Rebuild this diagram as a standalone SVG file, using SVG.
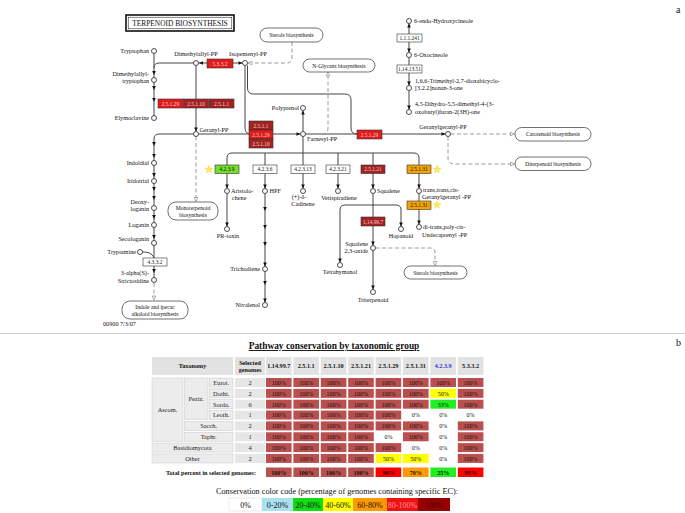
<svg xmlns="http://www.w3.org/2000/svg" width="685" height="513" viewBox="0 0 685 513">
<style>
text{font-family:"Liberation Serif","Times New Roman",serif;fill:#111}
.l{font-size:6.2px}
.r{text-anchor:end}
.m{text-anchor:middle}
.ln{fill:none;stroke:#444;stroke-width:1}
.ds{fill:none;stroke:#9a9a9a;stroke-width:1;stroke-dasharray:4 2.5}
.c{fill:#fff;stroke:#222;stroke-width:0.8}
.ec{stroke:#333;stroke-width:0.6}
.et{font-size:5.4px;text-anchor:middle}
.lt{fill:#f6d0d0}
.mp{fill:#fff;stroke:#333;stroke-width:0.7}
.mt{font-size:5.6px;text-anchor:middle}
.wh{fill:#fff}.rd{fill:#e21b1b}.dk{fill:#a52222}.gr{fill:#72e02a}.or{fill:#f3a300}
.a{fill:#111}
.o{fill:#fff;stroke:#888;stroke-width:0.7}
.st{fill:#fff24a;stroke:#d8c020;stroke-width:0.4}
.hd{fill:#e2e2e2}
.tx{fill:#ececec;stroke:#cfcfcf;stroke-width:0.6}
.sg{fill:#e6e6e6}
.k{fill:#b9504f}.w{fill:#fff}.y{fill:#ffff00}.g{fill:#22ee22}.R{fill:#ff0000}.O{fill:#ff9900}
.ct{font-size:6px;text-anchor:middle;fill:#5a1010}
.cz{font-size:6px;text-anchor:middle;fill:#222}
.th{font-size:6.2px;font-weight:bold;text-anchor:middle}
.tr{font-size:6.4px;text-anchor:middle;fill:#222}
.tb{font-size:6px;font-weight:bold;text-anchor:middle;fill:#3a0a0a}
.lg{font-size:8px;text-anchor:middle}
</style>
<defs>
<path id="ad" d="M-1.8,-4 L1.8,-4 L0,0 Z"/>
<path id="au" d="M-1.8,4 L1.8,4 L0,0 Z"/>
<path id="ar" d="M-4,-1.8 L-4,1.8 L0,0 Z"/>
<path id="al" d="M4,-1.8 L4,1.8 L0,0 Z"/>
<polygon id="star" points="0,-4 0.94,-1.29 3.8,-1.24 1.52,0.49 2.35,3.24 0,1.6 -2.35,3.24 -1.52,0.49 -3.8,-1.24 -0.94,-1.29"/>
</defs>
<rect width="685" height="513" fill="#fff"/>
<text x="676" y="13" style="font-size:10px">a</text>
<text x="676" y="346" style="font-size:10px">b</text>
<line x1="0" y1="333.5" x2="685" y2="333.5" stroke="#d0d0d0" stroke-width="1"/>

<g id="title">
<rect x="126" y="15" width="108" height="16" fill="#fff" stroke="#111" stroke-width="1.6"/>
<rect x="128.2" y="17.2" width="103.6" height="11.6" fill="none" stroke="#111" stroke-width="0.5"/>
<text x="180" y="26" class="m" style="font-size:7.4px">TERPENOID  BIOSYNTHESIS</text>
</g>

<g id="connectors">
<path class="ln" d="M154,54 V118"/>
<path class="ln" d="M193.5,63 H159 Q154,63 154,68"/>
<path class="ln" d="M193.5,134 H159 Q154,134 154,139 V280"/>
<path class="ln" d="M142.5,252 C148,252 152,253 154,258"/>
<path class="ds" d="M154,283 V297"/>
<path class="ln" d="M198.5,63 H242.5"/>
<path class="ln" d="M196,65.5 V131.5"/>
<path class="ds" d="M196,136.5 V198"/>
<path class="ln" d="M198.5,134 H300.5"/>
<path class="ln" d="M245,65.5 V128 Q245,134 251,134"/>
<path class="ln" d="M247.5,65.5 V88 Q247.5,94 253.5,94 H345 Q351,94 351,100 V128 Q351,134 357,134"/>
<path class="ln" d="M305.5,134 H445.5"/>
<path class="ln" d="M303,131.5 V110.5"/>
<path class="ln" d="M303,136.5 V188.5"/>
<path class="ln" d="M227,188.5 V158 Q227,153 232,153 H414 Q419,153 419,158 V188.5"/>
<path class="ln" d="M265,153 V188.5 M338,153 V188.5 M373,153 V188.5"/>
<path class="ln" d="M227,193.5 V226.5"/>
<path class="ln" d="M265,193.5 V302.5"/>
<path class="ln" d="M373,193.5 V245.5 M373,250.5 V289.5"/>
<path class="ln" d="M340,262.5 V210 Q340,205 345,205 H396 Q401,205 401,210 V226.5"/>
<path class="ln" d="M419,193.5 V224.5"/>
<path class="ds" d="M375.5,248 H430 Q435,248 435,253 V262"/>
<path class="ds" d="M292,42 V58 Q292,63 287,63 H253"/>
<path class="ds" d="M328,75 V128 Q328,134 322,134"/>
<path class="ds" d="M450.5,134 H511"/>
<path class="ds" d="M448,136.5 V158 Q448,164 454,164 H511"/>
<path class="ln" d="M409,23.5 V34 M409,42 V52.5 M409,57.5 V65 M409,73 V85.5 M409,90.5 V109.5"/>
<g class="a">
<use href="#ad" x="154" y="75"/><use href="#ad" x="154" y="90"/><use href="#ad" x="154" y="102"/>
<use href="#ad" x="154" y="146"/><use href="#ad" x="154" y="158"/><use href="#ad" x="154" y="177"/>
<use href="#ad" x="154" y="191"/><use href="#ad" x="154" y="200"/><use href="#ad" x="154" y="219"/>
<use href="#ad" x="154" y="239"/><use href="#ad" x="154" y="273"/>
<use href="#al" x="199" y="63"/><use href="#ar" x="242.5" y="63"/>
<use href="#ad" x="196" y="131.5"/>
<use href="#ar" x="300.5" y="134"/><use href="#ar" x="445.5" y="134"/>
<use href="#au" x="303" y="110.5"/>
<use href="#ad" x="227" y="188.5"/><use href="#ad" x="265" y="188.5"/><use href="#ad" x="303" y="188.5"/>
<use href="#ad" x="338" y="188.5"/><use href="#ad" x="373" y="188.5"/><use href="#ad" x="419" y="188.5"/>
<use href="#ad" x="227" y="226.5"/>
<use href="#ad" x="265" y="211"/><use href="#ad" x="265" y="229"/><use href="#ad" x="265" y="246"/>
<use href="#ad" x="265" y="266.5"/><use href="#ad" x="265" y="285"/><use href="#ad" x="265" y="302.5"/>
<use href="#ad" x="419" y="224.5"/><use href="#ad" x="401" y="226.5"/><use href="#ad" x="340" y="262.5"/>
<use href="#ad" x="373" y="245.5"/><use href="#ad" x="373" y="289.5"/>
<use href="#au" x="409" y="23.5"/><use href="#ad" x="409" y="52.5"/><use href="#ad" x="409" y="85.5"/><use href="#ad" x="409" y="109.5"/>
</g>
<g class="o">
<use href="#ad" x="154" y="300"/>
<use href="#ad" x="196" y="201.5"/>
<use href="#ad" x="435" y="265.5"/>
<use href="#al" x="248" y="63"/>
<use href="#au" x="328" y="72"/>
<use href="#ar" x="514.5" y="134"/>
<use href="#ar" x="514.5" y="164"/>
</g>
</g>

<g id="c-tryptophan"><circle class="c" cx="154" cy="51" r="2.5"/><text class="l r" x="149" y="53">Tryptophan</text></g>
<g id="c-dmatrp"><circle class="c" cx="154" cy="80" r="2.5"/><text class="l r" x="149" y="76">Dimethylallyl-</text><text class="l r" x="149" y="83">tryptophan</text></g>
<g id="c-elymoclavine"><circle class="c" cx="154" cy="118" r="2.5"/><text class="l r" x="149" y="120">Elymoclavine</text></g>
<g id="c-indoldial"><circle class="c" cx="154" cy="163" r="2.5"/><text class="l r" x="149" y="165">Indoldial</text></g>
<g id="c-iridotrial"><circle class="c" cx="154" cy="181" r="2.5"/><text class="l r" x="149" y="183">Iridotrial</text></g>
<g id="c-deoxyloganin"><circle class="c" cx="154" cy="208" r="2.5"/><text class="l r" x="149" y="204">Deoxy-</text><text class="l r" x="149" y="211">loganin</text></g>
<g id="c-loganin"><circle class="c" cx="154" cy="225" r="2.5"/><text class="l r" x="149" y="227">Loganin</text></g>
<g id="c-secologanin"><circle class="c" cx="154" cy="243" r="2.5"/><text class="l r" x="149" y="241">Secologanin</text></g>
<g id="c-tryptamine"><circle class="c" cx="140" cy="252" r="2.5"/><text class="l r" x="136" y="254">Tryptamine</text></g>
<g id="c-strictosidine"><circle class="c" cx="154" cy="280" r="2.5"/><text class="l r" x="149" y="275">3-alpha(S)-</text><text class="l r" x="149" y="283">Strictosidine</text></g>
<g id="c-dmapp"><circle class="c" cx="196" cy="63" r="2.5"/><text class="l m" x="196" y="56">Dimethylallyl-PP</text></g>
<g id="c-ipp"><circle class="c" cx="245" cy="63" r="2.5"/><text class="l m" x="248" y="56">Isopentenyl-PP</text></g>
<g id="c-gpp"><circle class="c" cx="196" cy="134" r="2.5"/><text class="l" x="199.5" y="132">Geranyl-PP</text></g>
<g id="c-fpp"><circle class="c" cx="303" cy="134" r="2.5"/><text class="l" x="307" y="141">Farnesyl-PP</text></g>
<g id="c-polyprenol"><circle class="c" cx="303" cy="108" r="2.5"/><text class="l r" x="299" y="110">Polyprenol</text></g>
<g id="c-ggpp"><circle class="c" cx="448" cy="134" r="2.5"/><text class="l m" x="443" y="129">Geranylgeranyl-PP</text></g>
<g id="c-aristolochene"><circle class="c" cx="227" cy="191" r="2.5"/><text class="l" x="231" y="193">Aristolo-</text><text class="l" x="232" y="200">chene</text></g>
<g id="c-prtoxin"><circle class="c" cx="227" cy="229" r="2.5"/><text class="l m" x="228" y="238">PR-toxin</text></g>
<g id="c-hpf"><circle class="c" cx="265" cy="191" r="2.5"/><text class="l" x="269.5" y="193">HPF</text></g>
<g id="c-trichodiene"><circle class="c" cx="265" cy="269" r="2.5"/><text class="l r" x="260" y="271">Trichodiene</text></g>
<g id="c-nivalenol"><circle class="c" cx="265" cy="305" r="2.5"/><text class="l r" x="260" y="307">Nivalenol</text></g>
<g id="c-cadinene"><circle class="c" cx="303" cy="191" r="2.5"/><text class="l m" x="299" y="199">(+)-δ-</text><text class="l m" x="303" y="206">Cadinene</text></g>
<g id="c-vetispiradiene"><circle class="c" cx="338" cy="191" r="2.5"/><text class="l m" x="339" y="200">Vetispiradiene</text></g>
<g id="c-squalene"><circle class="c" cx="373" cy="191" r="2.5"/><text class="l" x="377" y="193">Squalene</text></g>
<g id="c-ttcggpp"><circle class="c" cx="419" cy="191" r="2.5"/><text class="l" x="423" y="192">trans,trans,cis-</text><text class="l" x="422" y="199">Geranylgeranyl -PP</text></g>
<g id="c-undecaprenyl"><circle class="c" cx="419" cy="227" r="2.5"/><text class="l" x="423" y="229">di-trans,poly-cis-</text><text class="l" x="422" y="237">Undecaprenyl -PP</text></g>
<g id="c-hopanoid"><circle class="c" cx="401" cy="229" r="2.5"/><text class="l m" x="401" y="238">Hopanoid</text></g>
<g id="c-squaleneoxide"><circle class="c" cx="373" cy="248" r="2.5"/><text class="l r" x="368" y="246">Squalene</text><text class="l r" x="368" y="253">2,3-oxide</text></g>
<g id="c-tetrahymanol"><circle class="c" cx="340" cy="265" r="2.5"/><text class="l m" x="340" y="274">Tetrahymanol</text></g>
<g id="c-triterpenoid"><circle class="c" cx="373" cy="292" r="2.5"/><text class="l m" x="373" y="302">Triterpenoid</text></g>
<g id="c-hydroxycineole"><circle class="c" cx="409" cy="21" r="2.5"/><text class="l" x="414" y="23">6-endo-Hydroxycineole</text></g>
<g id="c-oxocineole"><circle class="c" cx="409" cy="55" r="2.5"/><text class="l" x="414" y="57">6-Oxocineole</text></g>
<g id="c-trimethyl"><circle class="c" cx="409" cy="88" r="2.5"/><text class="l" x="415" y="83">1,6,6-Trimethyl-2,7-dioxabicyclo-</text><text class="l" x="415" y="90">[3.2.2]nonan-3-one</text></g>
<g id="c-dihydro"><circle class="c" cx="409" cy="112" r="2.5"/><text class="l" x="415" y="106">4,5-Dihydro-5,5-dimethyl-4-(3-</text><text class="l" x="415" y="114">oxobutyl)furan-2(3H)-one</text></g>

<g id="e-5332"><rect class="ec rd" x="207" y="59" width="26" height="9"/><text class="et lt" x="220" y="65.6">5.3.3.2</text></g>
<g id="e-25129a"><rect class="ec rd" x="158" y="99" width="25" height="9"/><text class="et lt" x="170.5" y="105.6">2.5.1.29</text></g>
<g id="e-25110a"><rect class="ec dk" x="183.5" y="99" width="25" height="9"/><text class="et lt" x="196" y="105.6">2.5.1.10</text></g>
<g id="e-2511a"><rect class="ec dk" x="209" y="99" width="25" height="9"/><text class="et lt" x="221.5" y="105.6">2.5.1.1</text></g>
<g id="e-2511b"><rect class="ec dk" x="249" y="121" width="24" height="9"/><text class="et lt" x="261" y="127.6">2.5.1.1</text></g>
<g id="e-25129b"><rect class="ec rd" x="249" y="130" width="24" height="9"/><text class="et lt" x="261" y="136.6">2.5.1.29</text></g>
<g id="e-25110b"><rect class="ec dk" x="249" y="139" width="24" height="9"/><text class="et lt" x="261" y="145.6">2.5.1.10</text></g>
<g id="e-25129c"><rect class="ec rd" x="357" y="130" width="25" height="9"/><text class="et lt" x="369.5" y="136.6">2.5.1.29</text></g>
<g id="e-4239"><rect class="ec gr" x="215" y="165" width="24" height="8.5"/><text class="et" x="227" y="171.3">4.2.3.9</text><use href="#star" class="st" x="209" y="169.5"/></g>
<g id="e-4236"><rect class="ec wh" x="253" y="165" width="24" height="8.5"/><text class="et" x="265" y="171.3">4.2.3.6</text></g>
<g id="e-42313"><rect class="ec wh" x="291" y="165" width="24" height="8.5"/><text class="et" x="303" y="171.3">4.2.3.13</text></g>
<g id="e-42321"><rect class="ec wh" x="326" y="165" width="24" height="8.5"/><text class="et" x="338" y="171.3">4.2.3.21</text></g>
<g id="e-25121"><rect class="ec dk" x="361" y="165" width="24" height="8.5"/><text class="et lt" x="373" y="171.3">2.5.1.21</text></g>
<g id="e-25131a"><rect class="ec or" x="407" y="165" width="24" height="8.5"/><text class="et" x="419" y="171.3">2.5.1.31</text><use href="#star" class="st" x="437" y="169.5"/></g>
<g id="e-25131b"><rect class="ec or" x="407" y="201" width="24" height="8.5"/><text class="et" x="419" y="207.3">2.5.1.31</text><use href="#star" class="st" x="437" y="205"/></g>
<g id="e-114997"><rect class="ec dk" x="361" y="217" width="24" height="9"/><text class="et lt" x="373" y="223.6">1.14.99.7</text></g>
<g id="e-4332"><rect class="ec wh" x="143" y="258" width="24" height="8"/><text class="et" x="155" y="264">4.3.3.2</text></g>
<g id="e-111241"><rect class="ec wh" x="397" y="34" width="25" height="8"/><text class="et" x="409.5" y="40">1.1.1.241</text></g>
<g id="e-1141351"><rect class="ec wh" x="397" y="65" width="25" height="8"/><text class="et" x="409.5" y="71">1.14.13.51</text></g>

<g id="m-sterols1"><rect class="mp" x="260" y="28" width="63" height="14" rx="7"/><text class="mt" x="291.5" y="37">Sterols biosynthesis</text></g>
<g id="m-nglycans"><rect class="mp" x="303" y="59" width="72" height="13" rx="6.5"/><text class="mt" x="339" y="67.5">N-Glycans biosynthesis</text></g>
<g id="m-monoterpenoid"><rect class="mp" x="168" y="202" width="50" height="18" rx="8"/><text class="mt" x="193" y="210">Monoterpenoid</text><text class="mt" x="193" y="217">biosynthesis</text></g>
<g id="m-indole"><rect class="mp" x="122" y="301" width="66" height="18" rx="8"/><text class="mt" x="155" y="309">Indole and ipecac</text><text class="mt" x="155" y="316">alkaloid biosynthesis</text></g>
<g id="m-carotenoid"><rect class="mp" x="515" y="127.5" width="76" height="13.5" rx="6.7"/><text class="mt" x="553" y="136.3">Carotenoid biosynthesis</text></g>
<g id="m-diterpenoid"><rect class="mp" x="515" y="157" width="76" height="13.5" rx="6.7"/><text class="mt" x="553" y="165.8">Diterpenoid biosynthesis</text></g>
<g id="m-sterols2"><rect class="mp" x="404" y="266" width="63" height="13" rx="6.5"/><text class="mt" x="435.5" y="274.5">Sterols biosynthesis</text></g>
<text class="l" x="103" y="326">00900   7/3/07</text>

<g id="table">
<text x="334" y="349" class="m" style="font-size:9.4px;font-weight:bold;text-decoration:underline">Pathway conservation by taxonomic group</text>
<rect class="hd" x="152" y="357" width="81" height="18"/>
<rect class="hd" x="235" y="357" width="30" height="18"/>
<rect class="hd" x="266" y="357" width="25.6" height="18"/><rect class="hd" x="293.4" y="357" width="25.6" height="18"/>
<rect class="hd" x="320.8" y="357" width="25.6" height="18"/><rect class="hd" x="348.2" y="357" width="25.6" height="18"/>
<rect class="hd" x="375.6" y="357" width="25.6" height="18"/><rect class="hd" x="403" y="357" width="25.6" height="18"/>
<rect class="hd" x="430.4" y="357" width="25.6" height="18"/><rect class="hd" x="457.8" y="357" width="25.6" height="18"/>
<text class="th" x="192.5" y="368.3">Taxonomy</text>
<text class="th" x="250" y="364.5">Selected</text><text class="th" x="250" y="371.5">genomes</text>
<text class="th" x="278.8" y="368.3">1.14.99.7</text><text class="th" x="306.2" y="368.3">2.5.1.1</text>
<text class="th" x="333.6" y="368.3">2.5.1.10</text><text class="th" x="361" y="368.3">2.5.1.21</text>
<text class="th" x="388.4" y="368.3">2.5.1.29</text><text class="th" x="415.8" y="368.3">2.5.1.31</text>
<text class="th" x="443.2" y="368.3" style="fill:#3030c8">4.2.3.9</text><text class="th" x="470.6" y="368.3">5.3.3.2</text>

<rect class="tx" x="152" y="378" width="31" height="63.25"/><text class="tr" x="167.5" y="412">Ascom.</text>
<rect class="tx" x="184.5" y="378" width="23.5" height="41.55"/><text class="tr" x="196.2" y="401">Peziz.</text>
<rect class="tx" x="209.5" y="378" width="23.5" height="9"/><text class="tr" x="221.2" y="384.8">Eurot.</text>
<rect class="tx" x="209.5" y="388.85" width="23.5" height="9"/><text class="tr" x="221.2" y="395.6">Dothi.</text>
<rect class="tx" x="209.5" y="399.7" width="23.5" height="9"/><text class="tr" x="221.2" y="406.5">Sorda.</text>
<rect class="tx" x="209.5" y="410.55" width="23.5" height="9"/><text class="tr" x="221.2" y="417.3">Leoth.</text>
<rect class="tx" x="184.5" y="421.4" width="48.5" height="9"/><text class="tr" x="208.7" y="428.2">Sacch.</text>
<rect class="tx" x="184.5" y="432.25" width="48.5" height="9"/><text class="tr" x="208.7" y="439">Taphr.</text>
<rect class="tx" x="152" y="443.1" width="81" height="9"/><text class="tr" x="192.5" y="449.9">Basidiomycota</text>
<rect class="tx" x="152" y="453.95" width="81" height="9"/><text class="tr" x="192.5" y="460.7">Other</text>

<g class="sg">
<rect x="235" y="378" width="30" height="9"/><rect x="235" y="388.85" width="30" height="9"/>
<rect x="235" y="399.7" width="30" height="9"/><rect x="235" y="410.55" width="30" height="9"/>
<rect x="235" y="421.4" width="30" height="9"/><rect x="235" y="432.25" width="30" height="9"/>
<rect x="235" y="443.1" width="30" height="9"/><rect x="235" y="453.95" width="30" height="9"/>
</g>
<text class="tr" x="250" y="384.8">2</text><text class="tr" x="250" y="395.6">2</text><text class="tr" x="250" y="406.5">6</text>
<text class="tr" x="250" y="417.3">1</text><text class="tr" x="250" y="428.2">2</text><text class="tr" x="250" y="439">1</text>
<text class="tr" x="250" y="449.9">4</text><text class="tr" x="250" y="460.7">2</text>

<rect class="k" x="266" y="378" width="25.6" height="9"/><rect class="k" x="293.4" y="378" width="25.6" height="9"/>
<rect class="k" x="320.8" y="378" width="25.6" height="9"/><rect class="k" x="348.2" y="378" width="25.6" height="9"/>
<rect class="k" x="375.6" y="378" width="25.6" height="9"/><rect class="k" x="403" y="378" width="25.6" height="9"/>
<rect class="k" x="430.4" y="378" width="25.6" height="9"/><rect class="k" x="457.8" y="378" width="25.6" height="9"/>
<rect class="k" x="266" y="388.85" width="25.6" height="9"/><rect class="k" x="293.4" y="388.85" width="25.6" height="9"/>
<rect class="k" x="320.8" y="388.85" width="25.6" height="9"/><rect class="k" x="348.2" y="388.85" width="25.6" height="9"/>
<rect class="k" x="375.6" y="388.85" width="25.6" height="9"/><rect class="k" x="403" y="388.85" width="25.6" height="9"/>
<rect class="y" x="430.4" y="388.85" width="25.6" height="9"/><rect class="k" x="457.8" y="388.85" width="25.6" height="9"/>
<rect class="k" x="266" y="399.7" width="25.6" height="9"/><rect class="k" x="293.4" y="399.7" width="25.6" height="9"/>
<rect class="k" x="320.8" y="399.7" width="25.6" height="9"/><rect class="k" x="348.2" y="399.7" width="25.6" height="9"/>
<rect class="k" x="375.6" y="399.7" width="25.6" height="9"/><rect class="k" x="403" y="399.7" width="25.6" height="9"/>
<rect class="g" x="430.4" y="399.7" width="25.6" height="9"/><rect class="k" x="457.8" y="399.7" width="25.6" height="9"/>
<rect class="k" x="266" y="410.55" width="25.6" height="9"/><rect class="k" x="293.4" y="410.55" width="25.6" height="9"/>
<rect class="k" x="320.8" y="410.55" width="25.6" height="9"/><rect class="k" x="348.2" y="410.55" width="25.6" height="9"/>
<rect class="k" x="375.6" y="410.55" width="25.6" height="9"/>
<rect class="k" x="266" y="421.4" width="25.6" height="9"/><rect class="k" x="293.4" y="421.4" width="25.6" height="9"/>
<rect class="k" x="320.8" y="421.4" width="25.6" height="9"/><rect class="k" x="348.2" y="421.4" width="25.6" height="9"/>
<rect class="k" x="375.6" y="421.4" width="25.6" height="9"/><rect class="k" x="403" y="421.4" width="25.6" height="9"/>
<rect class="k" x="457.8" y="421.4" width="25.6" height="9"/>
<rect class="k" x="266" y="432.25" width="25.6" height="9"/><rect class="k" x="293.4" y="432.25" width="25.6" height="9"/>
<rect class="k" x="320.8" y="432.25" width="25.6" height="9"/><rect class="k" x="348.2" y="432.25" width="25.6" height="9"/>
<rect class="k" x="403" y="432.25" width="25.6" height="9"/><rect class="k" x="457.8" y="432.25" width="25.6" height="9"/>
<rect class="k" x="266" y="443.1" width="25.6" height="9"/><rect class="k" x="293.4" y="443.1" width="25.6" height="9"/>
<rect class="k" x="320.8" y="443.1" width="25.6" height="9"/><rect class="k" x="348.2" y="443.1" width="25.6" height="9"/>
<rect class="k" x="375.6" y="443.1" width="25.6" height="9"/><rect class="k" x="457.8" y="443.1" width="25.6" height="9"/>
<rect class="k" x="266" y="453.95" width="25.6" height="9"/><rect class="k" x="293.4" y="453.95" width="25.6" height="9"/>
<rect class="k" x="320.8" y="453.95" width="25.6" height="9"/><rect class="k" x="348.2" y="453.95" width="25.6" height="9"/>
<rect class="y" x="375.6" y="453.95" width="25.6" height="9"/><rect class="y" x="403" y="453.95" width="25.6" height="9"/>
<rect class="k" x="457.8" y="453.95" width="25.6" height="9"/>

<g class="ct">
<text x="278.8" y="384.8">100%</text><text x="306.2" y="384.8">100%</text><text x="333.6" y="384.8">100%</text><text x="361" y="384.8">100%</text><text x="388.4" y="384.8">100%</text><text x="415.8" y="384.8">100%</text><text x="443.2" y="384.8">100%</text><text x="470.6" y="384.8">100%</text>
<text x="278.8" y="395.6">100%</text><text x="306.2" y="395.6">100%</text><text x="333.6" y="395.6">100%</text><text x="361" y="395.6">100%</text><text x="388.4" y="395.6">100%</text><text x="415.8" y="395.6">100%</text><text x="470.6" y="395.6">100%</text>
<text x="278.8" y="406.5">100%</text><text x="306.2" y="406.5">100%</text><text x="333.6" y="406.5">100%</text><text x="361" y="406.5">100%</text><text x="388.4" y="406.5">100%</text><text x="415.8" y="406.5">100%</text><text x="470.6" y="406.5">100%</text>
<text x="278.8" y="417.3">100%</text><text x="306.2" y="417.3">100%</text><text x="333.6" y="417.3">100%</text><text x="361" y="417.3">100%</text><text x="388.4" y="417.3">100%</text>
<text x="278.8" y="428.2">100%</text><text x="306.2" y="428.2">100%</text><text x="333.6" y="428.2">100%</text><text x="361" y="428.2">100%</text><text x="388.4" y="428.2">100%</text><text x="415.8" y="428.2">100%</text><text x="470.6" y="428.2">100%</text>
<text x="278.8" y="439">100%</text><text x="306.2" y="439">100%</text><text x="333.6" y="439">100%</text><text x="361" y="439">100%</text><text x="415.8" y="439">100%</text><text x="470.6" y="439">100%</text>
<text x="278.8" y="449.9">100%</text><text x="306.2" y="449.9">100%</text><text x="333.6" y="449.9">100%</text><text x="361" y="449.9">100%</text><text x="388.4" y="449.9">100%</text><text x="470.6" y="449.9">100%</text>
<text x="278.8" y="460.7">100%</text><text x="306.2" y="460.7">100%</text><text x="333.6" y="460.7">100%</text><text x="361" y="460.7">100%</text><text x="470.6" y="460.7">100%</text>
</g>
<g class="cz">
<text x="443.2" y="395.6">50%</text><text x="443.2" y="406.5">33%</text>
<text x="415.8" y="417.3">0%</text><text x="443.2" y="417.3">0%</text><text x="470.6" y="417.3">0%</text>
<text x="443.2" y="428.2">0%</text>
<text x="388.4" y="439">0%</text><text x="443.2" y="439">0%</text>
<text x="415.8" y="449.9">0%</text><text x="443.2" y="449.9">0%</text>
<text x="388.4" y="460.7">50%</text><text x="415.8" y="460.7">50%</text><text x="443.2" y="460.7">0%</text>
</g>

<text x="211" y="474.5" class="m" style="font-size:6.2px;font-weight:bold">Total percent in selected genomes:</text>
<rect class="k" x="266" y="467.5" width="25.6" height="9.5"/><rect class="k" x="293.4" y="467.5" width="25.6" height="9.5"/>
<rect class="k" x="320.8" y="467.5" width="25.6" height="9.5"/><rect class="k" x="348.2" y="467.5" width="25.6" height="9.5"/>
<rect class="R" x="375.6" y="467.5" width="25.6" height="9.5"/><rect class="O" x="403" y="467.5" width="25.6" height="9.5"/>
<rect class="g" x="430.4" y="467.5" width="25.6" height="9.5"/><rect class="R" x="457.8" y="467.5" width="25.6" height="9.5"/>
<g class="tb">
<text x="278.8" y="474.6">100%</text><text x="306.2" y="474.6">100%</text><text x="333.6" y="474.6">100%</text><text x="361" y="474.6">100%</text>
<text x="388.4" y="474.6">90%</text><text x="415.8" y="474.6">70%</text><text x="443.2" y="474.6">25%</text><text x="470.6" y="474.6">95%</text>
</g>
</g>

<g id="legend">
<text x="337" y="494" class="m" style="font-size:8.2px">Conservation color code (percentage of genomes containing specific EC):</text>
<rect x="229" y="498" width="33" height="13" fill="#fff" stroke="#ddd" stroke-width="0.6"/>
<rect x="262" y="498" width="31" height="13" fill="#a9e1f2"/>
<rect x="293" y="498" width="30" height="13" fill="#12dd12"/>
<rect x="323" y="498" width="30" height="13" fill="#ffff00"/>
<rect x="353" y="498" width="34" height="13" fill="#ff9900"/>
<rect x="387" y="498" width="31" height="13" fill="#ee1111"/>
<rect x="418" y="498" width="32" height="13" fill="#990000"/>
<text class="lg" x="245.5" y="507.5">0%</text>
<text class="lg" x="277.5" y="507.5">0-20%</text>
<text class="lg" x="308" y="507.5">20-40%</text>
<text class="lg" x="338" y="507.5">40-60%</text>
<text class="lg" x="370" y="507.5">60-80%</text>
<text class="lg" x="402.5" y="507.5" style="fill:#ff9a9a">80-100%</text>
<text class="lg" x="434" y="507.5" style="fill:#3a0000">100%</text>
</g>
</svg>
